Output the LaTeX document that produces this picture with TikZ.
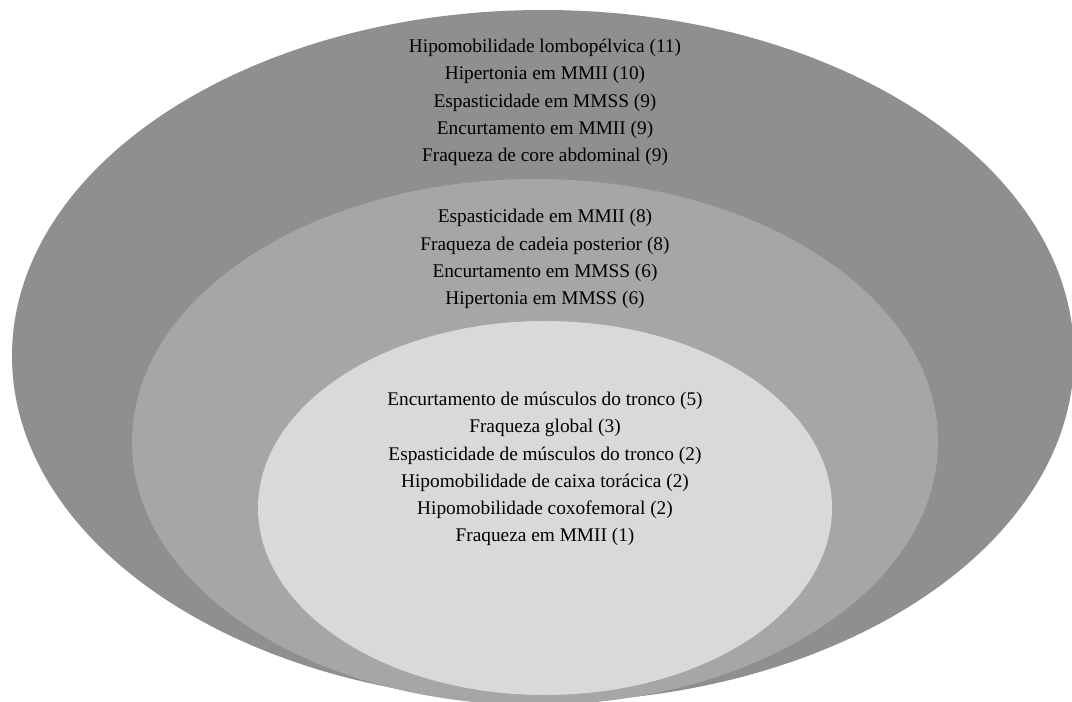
\documentclass[tikz,border=0pt]{standalone}
\usepackage{fontspec}
\setmainfont{Liberation Serif}
\usepackage{xcolor}
\usepackage{tikz}
\usetikzlibrary{shapes.geometric,positioning}
\definecolor{ringout}{gray}{0.56}
\definecolor{ringmid}{gray}{0.65}
\definecolor{ringin}{gray}{0.85}

\begin{document}
\begin{tikzpicture}[
  x=0.75pt,y=-0.75pt,
  ring/.style={ellipse,draw=none,inner sep=0pt,outer sep=0pt},
  lbl/.style={align=center,inner sep=0pt,font=\fontsize{14.5}{20.4}\selectfont}
]
\useasboundingbox (0,0) rectangle (1072,702);
\node[ring,fill=ringout,minimum width=796.5pt,minimum height=519pt] (outer) at (543,356) {};
\node[ring,fill=ringmid,minimum width=604.5pt,minimum height=394.5pt] (middle) at (535,442) {};
\node[ring,fill=ringin,minimum width=430.5pt,minimum height=280.5pt] (inner) at (545,508) {};
\node[lbl] (grpout) at (545,102.5) {Hipomobilidade lombopélvica (11)\\Hipertonia em MMII (10)\\
  Espasticidade em MMSS (9)\\Encurtamento em MMII (9)\\Fraqueza de core abdominal (9)};
\node[lbl] (grpmid) at (545,259) {Espasticidade em MMII (8)\\Fraqueza de cadeia posterior (8)\\
  Encurtamento em MMSS (6)\\Hipertonia em MMSS (6)};
\node[lbl] (grpin) at (545,469) {Encurtamento de músculos do tronco (5)\\Fraqueza global (3)\\
  Espasticidade de músculos do tronco (2)\\Hipomobilidade de caixa torácica (2)\\
  Hipomobilidade coxofemoral (2)\\Fraqueza em MMII (1)};
\end{tikzpicture}
\end{document}
